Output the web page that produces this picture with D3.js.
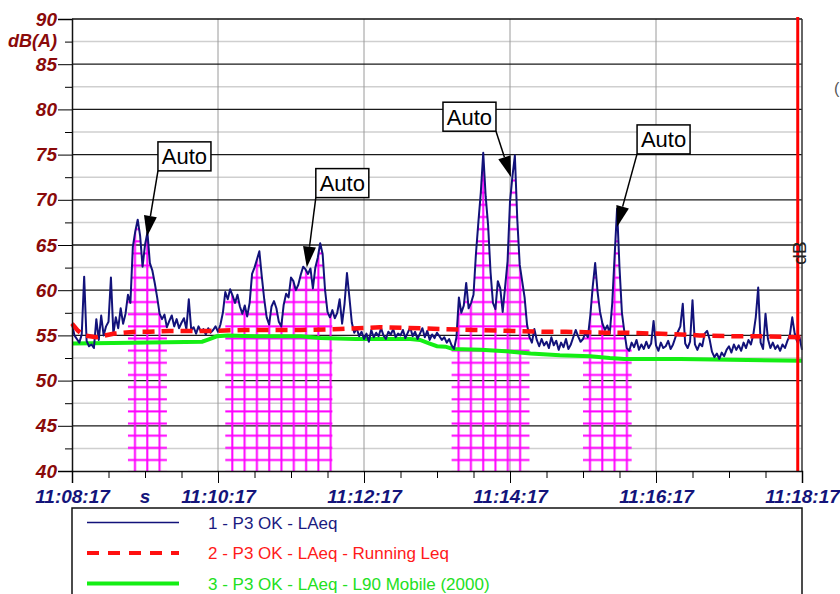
<!DOCTYPE html>
<html>
<head>
<meta charset="utf-8">
<script src="https://cdn.jsdelivr.net/npm/d3@7"></script>
<style>
body { margin: 0; background: #fff; }
svg { display: block; font-family: "Liberation Sans", Arial, sans-serif; }
.axis text { font-weight: bold; font-style: italic; font-size: 19px; }
</style>
</head>
<body>
<div class="visHolder"></div>
<script>
// time of first sample, one LAeq value every 2 s
var startTime = new Date(2000, 0, 1, 11, 8, 17);
var stepSeconds = 2;
var totalSeconds = 600;

var laeq = [
  56.3, 55.0, 54.6, 54.2, 55.1, 61.5, 54.4, 53.8, 54.0, 53.6, 56.8, 54.5, 57.2, 55.0, 56.0,
  56.5, 61.4, 55.2, 57.0, 55.8, 58.0, 56.3, 57.4, 59.5, 58.6, 64.8, 66.5, 67.8, 66.0, 62.6,
  65.0, 66.4, 63.0, 62.2, 60.8, 59.2, 57.4, 56.8, 57.3, 55.9, 56.6, 57.2, 56.0, 56.8, 55.8,
  56.4, 56.9, 55.7, 59.0, 55.6, 55.9, 55.2, 56.0, 55.4, 55.7, 55.1, 55.8, 55.3, 55.6, 56.0,
  55.4, 56.2, 57.5, 59.8, 59.0, 60.1, 59.4, 58.6, 59.5, 58.2, 57.4, 58.3, 57.1, 58.6, 61.8,
  62.5, 63.4, 64.3, 61.5, 59.0, 57.0, 56.2, 58.2, 58.8, 58.0, 56.5, 56.0, 58.4, 59.6, 59.2,
  61.4, 61.0, 60.0, 60.6, 61.7, 62.6, 62.3, 61.8, 62.4, 60.2, 62.5, 63.6, 65.2, 64.0, 60.0,
  57.6, 57.0, 57.8, 56.9, 57.5, 59.0, 56.3, 58.5, 61.9, 59.2, 56.4, 55.3, 55.8, 54.9, 55.4,
  54.6, 55.2, 54.3, 55.6, 54.8, 55.3, 54.9, 55.8, 55.0, 54.6, 55.4, 55.1, 55.7, 54.8, 55.2,
  55.0, 55.6, 54.7, 55.3, 55.9, 54.9, 55.4, 54.6, 55.2, 55.8, 54.8, 55.5, 54.5, 55.1, 54.7,
  55.3, 54.9, 54.5, 54.8, 54.2, 54.6, 53.9, 53.5, 54.8, 59.2, 57.5, 58.3, 60.8, 58.0, 58.6,
  59.5, 64.0, 67.5, 70.8, 75.2, 70.4, 67.2, 62.0, 58.6, 57.9, 61.0, 60.2, 57.6, 60.4, 63.2,
  69.8, 72.6, 74.9, 67.8, 62.8, 61.0, 59.2, 56.2, 54.8, 54.2, 55.7, 54.5, 53.8, 54.6, 53.9,
  54.3, 53.6, 54.8, 53.9, 54.4, 53.4, 54.2, 53.7, 54.6, 53.5, 54.0, 54.8, 55.6, 54.9, 54.3,
  54.6, 55.3, 54.8, 57.2, 60.4, 63.0, 59.8, 57.6, 56.3, 55.6, 56.1, 55.2, 58.5, 63.8, 69.0,
  62.5, 57.5, 55.4, 53.6, 53.3, 54.2, 53.7, 54.5, 53.4, 54.0, 53.5, 54.3, 53.6, 54.1, 56.6,
  53.9, 53.3, 54.2, 53.6, 53.8, 54.4, 53.5, 54.0, 54.8, 55.4, 56.0, 58.5, 54.1, 53.6, 54.3,
  58.9, 54.0, 53.4, 54.1, 53.8, 55.2, 55.5, 54.6, 53.2, 52.6, 53.0, 52.4, 53.1, 52.7, 53.4,
  53.8, 53.1, 54.0, 53.4, 53.9, 53.3, 54.2, 53.6, 54.5, 54.0, 55.1, 57.0, 60.3, 54.2, 53.5,
  57.4, 54.6, 53.6, 54.2, 53.5, 53.9, 53.3, 54.0, 53.6, 54.4, 55.0, 57.0, 55.2, 54.3, 54.8,
  53.4
];

// running Leq, seconds / dB
var runningSec = [0, 5, 10, 20, 35, 52, 64, 80, 97, 113, 142, 156, 188, 220, 253, 286, 302, 330, 362, 390, 406, 438, 454, 479, 500, 516, 545, 565, 600];
var runningDb = [56.3, 55.5, 55.0, 54.8, 55.2, 55.4, 55.4, 55.5, 55.5, 55.5, 55.6, 55.6, 55.6, 55.7, 55.9, 55.8, 55.7, 55.6, 55.5, 55.4, 55.4, 55.3, 55.3, 55.2, 55.1, 55.0, 54.9, 54.9, 54.8];

// L90 mobile, seconds / dB
var l90Sec = [0, 50, 107, 113, 119, 128, 150, 188, 204, 233, 278, 286, 294, 300, 307, 313, 336, 361, 377, 401, 426, 442, 454, 500, 541, 600];
var l90Db = [54.1, 54.2, 54.3, 54.6, 54.9, 55.0, 54.9, 54.9, 54.7, 54.6, 54.6, 54.5, 54.1, 53.8, 53.75, 53.5, 53.4, 53.2, 53.0, 52.8, 52.7, 52.5, 52.4, 52.4, 52.3, 52.2];

// "Auto" marked events (seconds)
var eventStart = [46, 126, 312, 420];
var eventEnd = [78, 214, 376, 460];
var autoSec = [61.6, 193, 360.8, 448];
var autoDb = [65.9, 62.5, 72.5, 67];
var autoText = ["Auto", "Auto", "Auto", "Auto"];

var cursorSec = 596.5;

var yMajorTicks = [40, 45, 50, 55, 60, 65, 70, 75, 80, 85, 90];
var yMinorTicks = [42.5, 47.5, 52.5, 57.5, 62.5, 67.5, 72.5, 77.5, 82.5, 87.5];
var yUnit = "dB(A)";
var xUnit = "s";

var legendNames = ["1 - P3 OK - LAeq", "2 - P3 OK - LAeq - Running Leq", "3 - P3 OK - LAeq - L90 Mobile (2000)"];

// layout
var plotLeft = 72, plotRight = 802, plotTop = 19, plotBottom = 471;
var navy = "#12127a", red = "#ff1010", green = "#14ee14", magenta = "#ff00ff", darkRed = "#8a0a0a";
// arrow start relative to tip [dx, dy], and which box corner it leaves from
var boxOffsets = [[11, -66, "left"], [9, -70, "left"], [-15, -46, "right"], [20, -73, "left"]];

function secToDate(s) {
  return new Date(startTime.getTime() + s * 1000);
}

var svg = d3.select(".visHolder").append("svg")
  .attr("width", 840)
  .attr("height", 594);

var x = d3.scaleTime()
  .domain([startTime, secToDate(totalSeconds)])
  .range([plotLeft, plotRight]);

var y = d3.scaleLinear()
  .domain([40, 90])
  .range([plotBottom, plotTop]);

// grid
svg.append("g").selectAll("line")
  .data(yMinorTicks)
  .enter().append("line")
  .attr("x1", plotLeft).attr("x2", plotRight)
  .attr("y1", function(d) { return y(d); })
  .attr("y2", function(d) { return y(d); })
  .attr("stroke", "#cfcfcf")
  .attr("stroke-width", 1.5);

var majorTimes = d3.range(0, totalSeconds + 1, 120).map(secToDate);

svg.append("g").selectAll("line")
  .data(majorTimes.slice(1, -1))
  .enter().append("line")
  .attr("x1", function(d) { return x(d); })
  .attr("x2", function(d) { return x(d); })
  .attr("y1", plotTop).attr("y2", plotBottom)
  .attr("stroke", "#9a9a9a")
  .attr("stroke-width", 1);

svg.append("g").selectAll("line")
  .data(yMajorTicks.slice(1, -1))
  .enter().append("line")
  .attr("x1", plotLeft).attr("x2", plotRight)
  .attr("y1", function(d) { return y(d); })
  .attr("y2", function(d) { return y(d); })
  .attr("stroke", "#1a1a1a")
  .attr("stroke-width", 1.3);

// hatched event areas
var points = laeq.map(function(v, i) { return [i * stepSeconds, v]; });
var defs = svg.append("defs");

eventStart.forEach(function(s, i) {
  var pat = defs.append("pattern")
    .attr("id", "hatch" + i)
    .attr("patternUnits", "userSpaceOnUse")
    .attr("x", x(secToDate(s)) + 1)
    .attr("y", y(40) - 17)
    .attr("width", 12.3)
    .attr("height", 12.15);
  pat.append("line")
    .attr("x1", 6).attr("x2", 6).attr("y1", 0).attr("y2", 12.15)
    .attr("stroke", magenta).attr("stroke-width", 2);
  pat.append("line")
    .attr("x1", 0).attr("x2", 12.3).attr("y1", 6).attr("y2", 6)
    .attr("stroke", magenta).attr("stroke-width", 2);
});

var hatchArea = d3.area()
  .x(function(d) { return x(secToDate(d[0])); })
  .y0(y(40))
  .y1(function(d) { return y(d[1]); });

eventStart.forEach(function(s, i) {
  var seg = points.filter(function(p) { return p[0] >= s && p[0] <= eventEnd[i]; });
  svg.append("path")
    .datum(seg)
    .attr("d", hatchArea)
    .attr("fill", "url(#hatch" + i + ")");
});

// series
var line = d3.line()
  .x(function(d) { return x(secToDate(d[0])); })
  .y(function(d) { return y(d[1]); });

svg.append("path")
  .datum(l90Sec.map(function(s, i) { return [s, l90Db[i]]; }))
  .attr("d", line)
  .attr("fill", "none")
  .attr("stroke", green)
  .attr("stroke-width", 4);

svg.append("path")
  .datum(points)
  .attr("d", line)
  .attr("fill", "none")
  .attr("stroke", navy)
  .attr("stroke-width", 2)
  .attr("stroke-linejoin", "round");

svg.append("path")
  .datum(runningSec.map(function(s, i) { return [s, runningDb[i]]; }))
  .attr("d", line)
  .attr("fill", "none")
  .attr("stroke", red)
  .attr("stroke-width", 4.5)
  .attr("stroke-dasharray", "12,7");

// frame
svg.append("line")
  .attr("x1", plotLeft).attr("x2", plotRight).attr("y1", plotTop).attr("y2", plotTop)
  .attr("stroke", "#111").attr("stroke-width", 1.5);
svg.append("line")
  .attr("x1", plotRight).attr("x2", plotRight).attr("y1", plotTop).attr("y2", plotBottom)
  .attr("stroke", "#333").attr("stroke-width", 1.5);

// cursor
svg.append("line")
  .attr("x1", x(secToDate(cursorSec))).attr("x2", x(secToDate(cursorSec)))
  .attr("y1", plotTop - 2).attr("y2", plotBottom)
  .attr("stroke", "#ff0000").attr("stroke-width", 3);

svg.append("text")
  .attr("transform", "translate(806,253) rotate(-90)")
  .attr("text-anchor", "middle")
  .attr("font-size", 19)
  .attr("fill", "#222")
  .text("dB");

svg.append("text")
  .attr("x", 834).attr("y", 94)
  .attr("font-size", 16)
  .attr("fill", "#555")
  .text("(");

// axes
var yAxis = svg.append("g")
  .attr("class", "axis")
  .attr("transform", "translate(" + plotLeft + ",0)")
  .call(d3.axisLeft(y).tickValues(yMajorTicks).tickSize(14).tickPadding(1).tickFormat(d3.format("d")));
yAxis.selectAll("text").attr("fill", darkRed);
yAxis.select(".domain").attr("stroke", "#111").attr("stroke-width", 1.5);

svg.append("g")
  .attr("transform", "translate(" + plotLeft + ",0)")
  .call(d3.axisLeft(y).tickValues(yMinorTicks).tickSize(7).tickFormat(""))
  .select(".domain").remove();

svg.append("text")
  .attr("x", plotLeft - 15)
  .attr("y", y(87.5))
  .attr("dy", "0.32em")
  .attr("text-anchor", "end")
  .attr("font-weight", "bold").attr("font-style", "italic").attr("font-size", 18)
  .attr("fill", darkRed)
  .text(yUnit);

var xAxis = svg.append("g")
  .attr("class", "axis")
  .attr("transform", "translate(0," + plotBottom + ")")
  .call(d3.axisBottom(x).tickValues(majorTimes).tickSize(12).tickPadding(7).tickFormat(d3.timeFormat("%H:%M:%S")));
xAxis.selectAll("text").attr("fill", "#14147a");
xAxis.select(".domain").attr("stroke", "#111").attr("stroke-width", 1.5);

svg.append("g")
  .attr("transform", "translate(0," + plotBottom + ")")
  .call(d3.axisBottom(x).tickValues(d3.range(30, totalSeconds, 30).map(secToDate)).tickSize(7).tickFormat(""))
  .select(".domain").remove();

svg.append("text")
  .attr("x", x(secToDate(60)))
  .attr("y", plotBottom + 19)
  .attr("dy", "0.71em")
  .attr("text-anchor", "middle")
  .attr("font-weight", "bold").attr("font-style", "italic").attr("font-size", 19)
  .attr("fill", "#14147a")
  .text(xUnit);

// annotations
autoSec.forEach(function(s, i) {
  var tx = x(secToDate(s)), ty = y(autoDb[i]);
  var o = boxOffsets[i];
  var sx = tx + o[0], sy = ty + o[1];
  var bw = 53, bh = 29;
  var bx = o[2] === "left" ? sx : sx - bw;
  var by = sy - bh;

  var dx = tx - sx, dy = ty - sy;
  var len = Math.sqrt(dx * dx + dy * dy);
  var ux = dx / len, uy = dy / len;
  var cx = tx - ux * 21, cy = ty - uy * 21;
  var nx = -uy * 6.5, ny = ux * 6.5;

  svg.append("line")
    .attr("x1", sx).attr("y1", sy).attr("x2", cx).attr("y2", cy)
    .attr("stroke", "#000").attr("stroke-width", 1.5);
  svg.append("path")
    .attr("d", "M" + tx + "," + ty + "L" + (cx + nx) + "," + (cy + ny) + "L" + (cx - nx) + "," + (cy - ny) + "Z")
    .attr("fill", "#000");
  svg.append("rect")
    .attr("x", bx).attr("y", by).attr("width", bw).attr("height", bh)
    .attr("fill", "#fff").attr("stroke", "#000").attr("stroke-width", 1.5);
  svg.append("text")
    .attr("x", bx + bw / 2).attr("y", by + bh / 2)
    .attr("dy", "0.36em")
    .attr("text-anchor", "middle")
    .attr("font-size", 22)
    .attr("fill", "#000")
    .text(autoText[i]);
});

// legend
svg.append("rect")
  .attr("x", plotLeft).attr("y", 508)
  .attr("width", plotRight - plotLeft).attr("height", 100)
  .attr("fill", "#fff").attr("stroke", "#111").attr("stroke-width", 1.5);

var legendColors = [navy, red, green];
var legendWidths = [1.5, 4, 4];
var legendDash = [null, "12,9", null];
var legendText = ["#1a1a80", "#ff1a1a", "#22e022"];

legendNames.forEach(function(name, i) {
  var ly = 522.5 + i * 30.5;
  svg.append("line")
    .attr("x1", 87).attr("x2", 179).attr("y1", ly).attr("y2", ly)
    .attr("stroke", legendColors[i])
    .attr("stroke-width", legendWidths[i])
    .attr("stroke-dasharray", legendDash[i]);
  svg.append("text")
    .attr("x", 208).attr("y", ly)
    .attr("dy", "0.36em")
    .attr("font-size", 17)
    .attr("fill", legendText[i])
    .text(name);
});
</script>
</body>
</html>
